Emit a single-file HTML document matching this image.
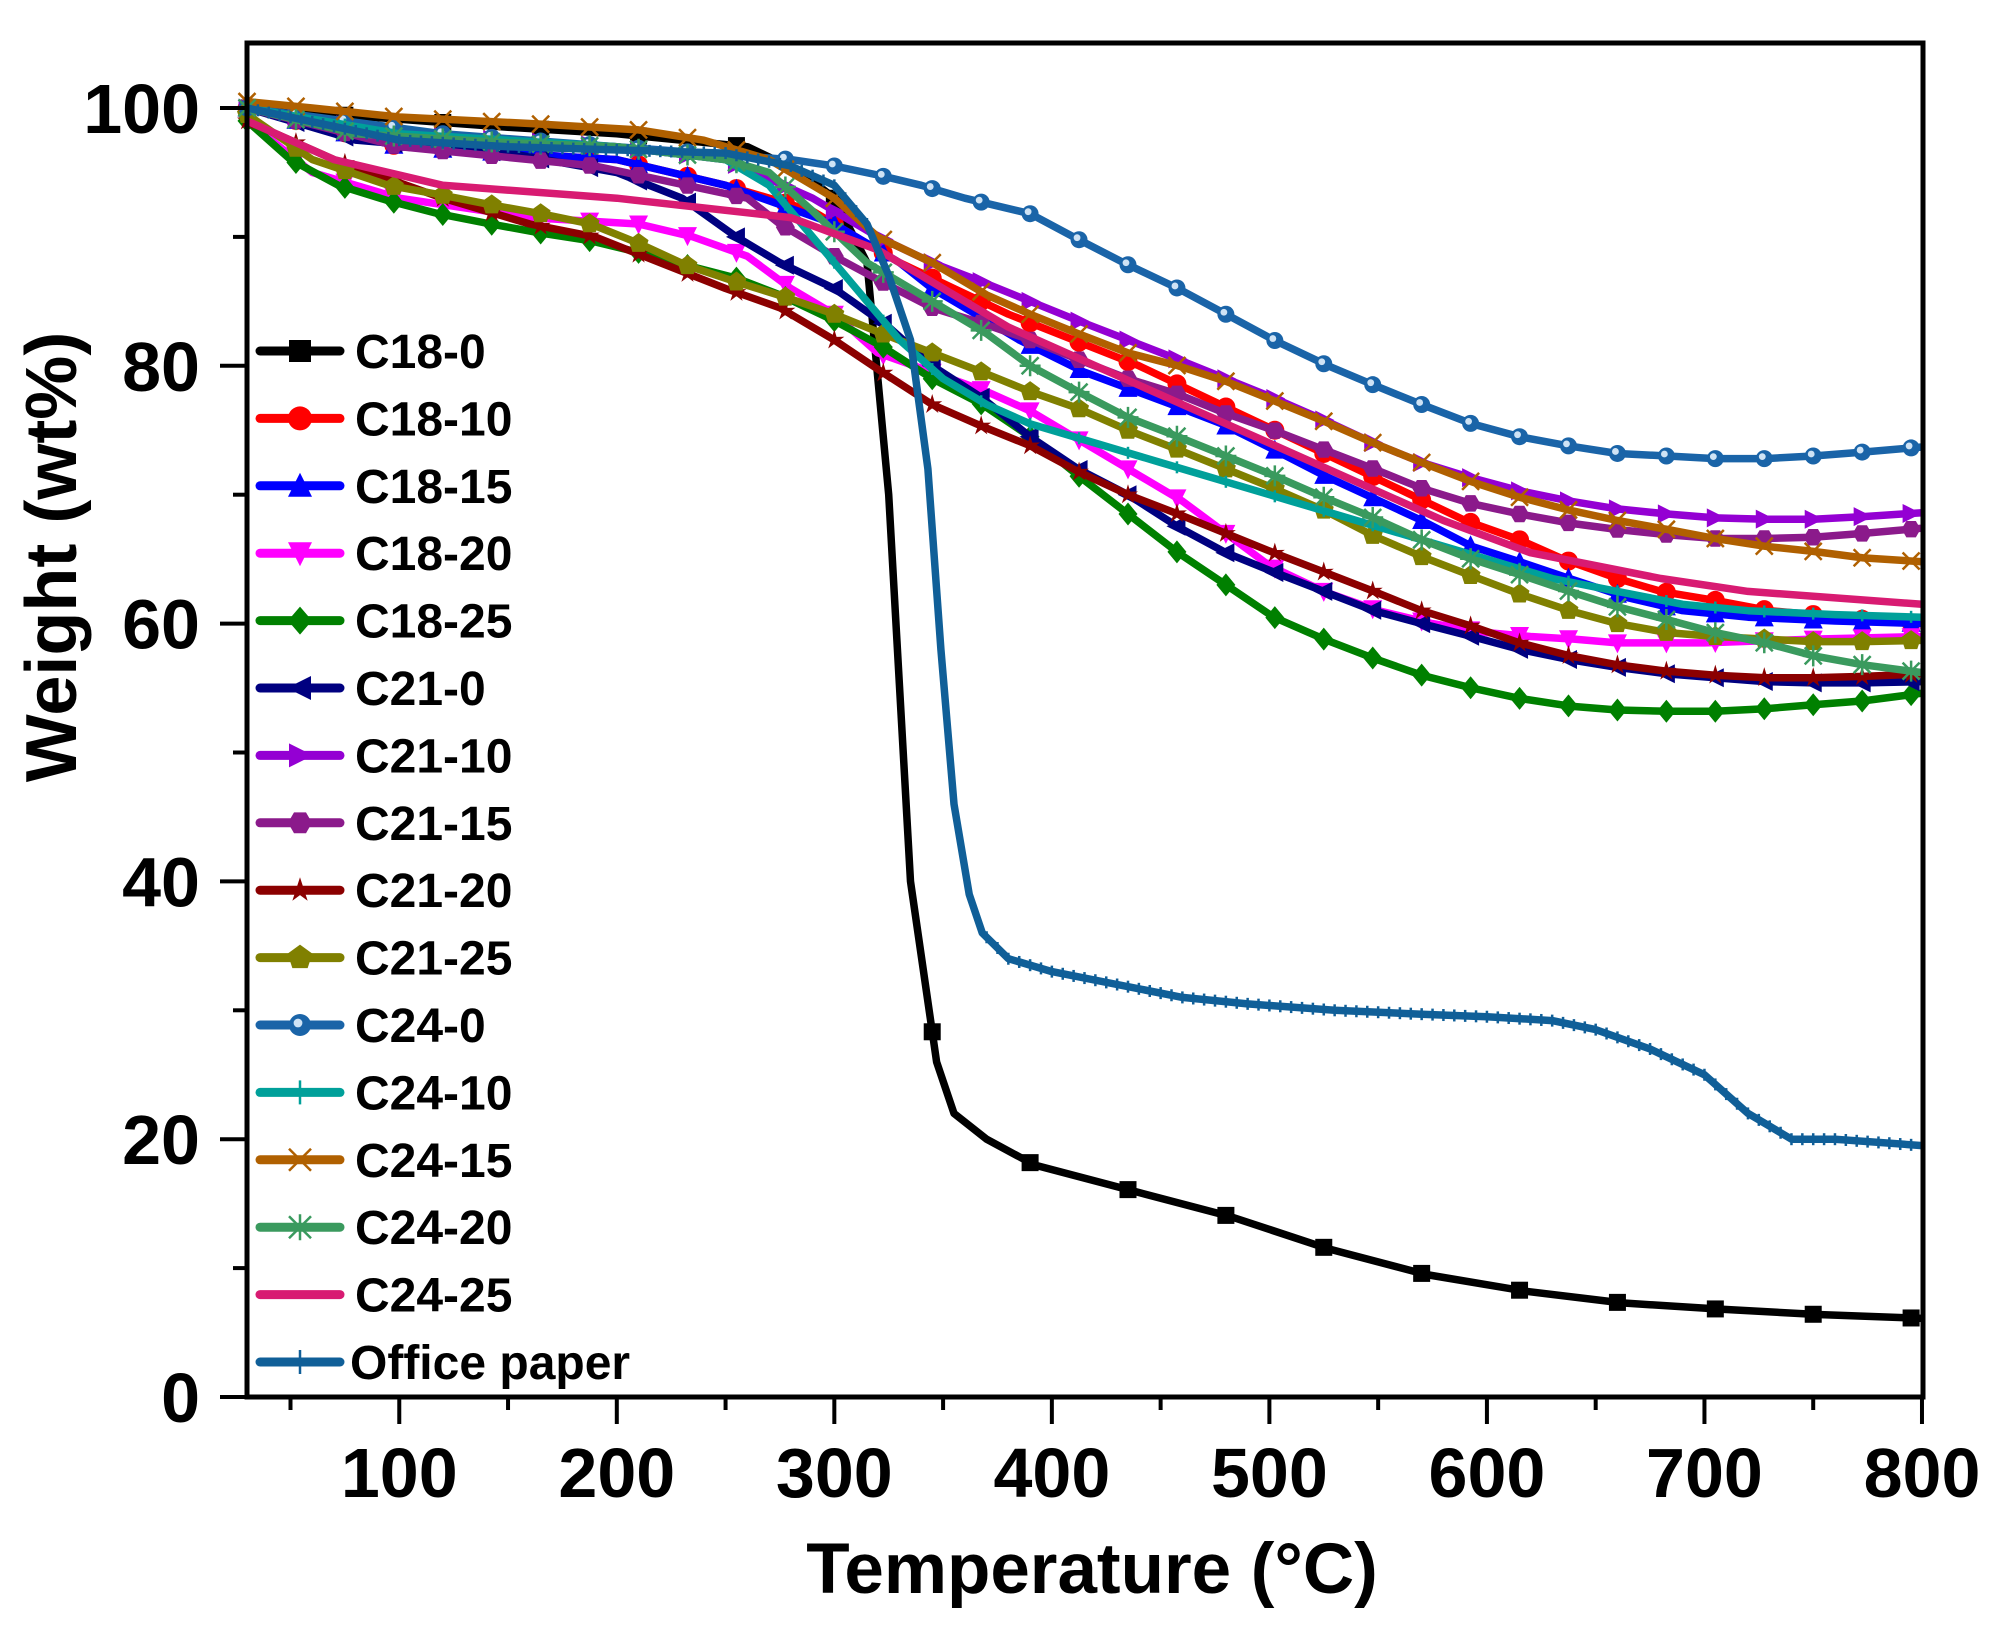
<!DOCTYPE html>
<html><head><meta charset="utf-8"><style>
html,body{margin:0;padding:0;background:#fff;}
svg{display:block;}
text{font-family:"Liberation Sans",Arial,sans-serif;font-weight:bold;fill:#000;}
</style></head><body>
<svg id="s" width="2011" height="1634" viewBox="0 0 2011 1634" xmlns="http://www.w3.org/2000/svg">
<rect width="2011" height="1634" fill="#fff"/>
<g id="plot"></g>
<g id="axes"></g>
<g id="leg"></g>
<text x="1092" y="1593" font-size="71" text-anchor="middle">Temperature (°C)</text>
<text transform="translate(76,557) rotate(-90)" font-size="72" text-anchor="middle">Weight (wt%)</text>
</svg>
<script>
const NS="http://www.w3.org/2000/svg";
const X=t=>247+(t-30)*2.1753, Y=w=>1397-w*12.89;
function el(tag,at,parent){const e=document.createElementNS(NS,tag);for(const k in at)e.setAttribute(k,at[k]);parent.appendChild(e);return e;}
const P=document.getElementById('plot'),A=document.getElementById('axes'),L=document.getElementById('leg');
function parse(s){return s.trim().split(/,\s*/).map(p=>{const [w,t]=p.split('@').map(Number);return [t,w];});}
function interp(pts,t){for(let i=0;i<pts.length-1;i++){if(t>=pts[i][0]&&t<=pts[i+1][0]){const f=(t-pts[i][0])/(pts[i+1][0]-pts[i][0]);return pts[i][1]+f*(pts[i+1][1]-pts[i][1]);}}return pts[pts.length-1][1];}
function marker(g,type,x,y,c,s){
 s=s||8;
 switch(type){
 case 'sq':el('rect',{x:x-s,y:y-s,width:2*s,height:2*s,fill:c},g);break;
 case 'ci':el('circle',{cx:x,cy:y,r:s+1,fill:c},g);break;
 case 'ball':el('circle',{cx:x,cy:y,r:s,fill:c},g);el('circle',{cx:x-2,cy:y-2,r:s*0.4,fill:'#cfe3f5'},g);break;
 case 'tu':el('polygon',{points:`${x},${y-s-2} ${x-s-1},${y+s} ${x+s+1},${y+s}`,fill:c},g);break;
 case 'td':el('polygon',{points:`${x},${y+s+2} ${x-s-1},${y-s} ${x+s+1},${y-s}`,fill:c},g);break;
 case 'tl':el('polygon',{points:`${x-s-2},${y} ${x+s},${y-s-1} ${x+s},${y+s+1}`,fill:c},g);break;
 case 'tr':el('polygon',{points:`${x+s+2},${y} ${x-s},${y-s-1} ${x-s},${y+s+1}`,fill:c},g);break;
 case 'di':el('polygon',{points:`${x},${y-s-3} ${x+s+1},${y} ${x},${y+s+3} ${x-s-1},${y}`,fill:c},g);break;
 case 'hex':{let p=[];for(let i=0;i<6;i++){const a=Math.PI/3*i;p.push((x+(s+1)*Math.cos(a))+','+(y+(s+1)*Math.sin(a)));}el('polygon',{points:p.join(' '),fill:c},g);break;}
 case 'pent':{let p=[];for(let i=0;i<5;i++){const a=-Math.PI/2+2*Math.PI/5*i;p.push((x+(s+2)*Math.cos(a))+','+(y+(s+2)*Math.sin(a)));}el('polygon',{points:p.join(' '),fill:c},g);break;}
 case 'star':{let p=[];for(let i=0;i<10;i++){const a=-Math.PI/2+Math.PI/5*i,r=i%2?s*0.45:s+2;p.push((x+r*Math.cos(a))+','+(y+r*Math.sin(a)));}el('polygon',{points:p.join(' '),fill:c},g);break;}
 case 'plus':el('path',{d:`M${x-s} ${y}H${x+s}M${x} ${y-s}V${y+s}`,stroke:c,'stroke-width':2.5},g);break;
 case 'vbar':el('path',{d:`M${x} ${y-s}V${y+s}`,stroke:c,'stroke-width':2.5},g);break;
 case 'x':el('path',{d:`M${x-s} ${y-s}L${x+s} ${y+s}M${x+s} ${y-s}L${x-s} ${y+s}`,stroke:c,'stroke-width':2.5},g);break;
 case 'ast':el('path',{d:`M${x-s} ${y-s}L${x+s} ${y+s}M${x+s} ${y-s}L${x-s} ${y+s}M${x} ${y-s-2}V${y+s+2}M${x-s-2} ${y}H${x+s+2}`,stroke:c,'stroke-width':2.5},g);break;
 }
}
const S=[
["C18-0","#000000","sq",45,"100@30,98.5@150,98@200,97@260,95@285,93@300,88@315,70@325,40@335,26@347,22@355,20@370,18@392,16@437,14@482,11.5@527,9.5@572,8.2@618,7.3@662,6.8@708,6.4@752,6.1@800"],
["C18-10","#ff0000","ci",22.5,"100@30,97@100,96@200,94@250,92@290,88@330,86@355,84@380,82@410,80@440,78@465,76@490,74@515,72@540,70@565,68@590,66.5@615,65@635,63.5@660,62.5@680,61.8@705,61@730,60.7@750,60.3@775,60@800"],
["C18-15","#0000ff","tu",22.5,"100@30,97@100,96@200,94@250,91@300,88@330,86@345,84@365,82@385,79.5@415,77@455,75.5@478,73.5@502,71.5@525,69.8@547,68@570,66@593,64.8@615,63.5@638,62@665,61@690,60.5@720,60.2@760,60@800"],
["C18-20","#ff00ff","td",22.5,"99@30,95@60,93@100,91.5@160,91@210,90@235,88.5@260,86@280,84@300,81@320,79.5@345,78@370,76.5@390,74.5@410,72@435,69.5@460,67@480,64.5@500,62.5@525,61@550,60@575,59.3@600,59@620,58.8@640,58.5@660,58.5@700,58.8@750,59@800"],
["C18-25","#008000","di",22.5,"99@30,96@50,94@72,92.8@95,91.8@118,91@142,90.3@165,89.7@188,88.8@210,87.8@232,86.8@255,85.5@275,83.5@300,81.5@322,79@345,77@368,74.5@390,71.5@412,68.5@435,65.5@458,63@480,60.5@502,58.8@525,57.3@548,56@570,55@593,54.2@615,53.6@638,53.3@660,53.2@683,53.2@705,53.4@728,53.7@750,54@773,54.6@800"],
["C21-0","#000080","tl",22.5,"100@30,97.5@80,96.5@150,95@200,93@230,90@255,88@275,86@300,83@325,80@345,77.5@368,74.5@390,72@412,70@435,67.5@458,65.5@480,64@502,62.5@525,61@548,60@570,59@593,58@615,57.2@638,56.6@660,56.1@683,55.8@705,55.5@728,55.4@750,55.4@773,55.5@800"],
["C21-10","#9400d3","tr",22.5,"100@30,98@100,97@200,96@250,93@290,90@320,88@345,86.5@368,85@390,83.5@412,82@435,80.5@458,79@480,77.5@502,75.8@525,74@548,72.5@570,71.3@593,70.3@615,69.5@638,68.9@660,68.5@683,68.2@705,68.1@728,68.1@750,68.3@773,68.6@800"],
["C21-15","#8b1a8b","hex",22.5,"100@30,97@100,95.5@190,93@260,91@275,88.5@300,86.5@322,84.5@345,83.3@368,82@390,80.5@412,79@435,77.8@458,76.3@480,75@502,73.5@525,72@548,70.5@570,69.3@593,68.5@615,67.8@638,67.3@660,66.9@683,66.6@705,66.6@728,66.7@750,67@773,67.4@800"],
["C21-20","#8b0000","star",22.5,"99@30,96@70,93@120,91@160,90@190,88@220,86@250,84.5@275,82@300,79.5@322,77@345,75.3@368,73.8@390,71.8@412,70@435,68.5@458,67@480,65.5@502,64@525,62.5@548,61@570,59.8@593,58.5@615,57.5@638,56.8@660,56.3@683,56@705,55.8@728,55.8@750,55.9@773,56.1@800"],
["C21-25","#808000","pent",22.5,"99.5@30,96@60,94@95,93.3@118,92.5@142,91.8@165,91@188,89.5@210,87.8@232,86.5@255,85.3@278,84@300,82.5@322,81@345,79.5@368,78@390,76.7@412,75@435,73.5@458,72@480,70.5@502,68.8@525,66.8@548,65.2@570,63.7@593,62.3@615,61@638,60@660,59.3@683,59@705,58.8@728,58.6@750,58.6@773,58.7@800"],
["C24-0","#1a64a8","ball",22.5,"100@30,98@120,97@200,96@280,95.5@300,94.8@320,94@340,93@360,91.8@390,90@410,88@433,86@458,84@480,82@502,80@527,78.5@548,77@570,75.5@593,74.5@615,73.8@637,73.2@660,73@683,72.8@705,72.8@728,73@750,73.3@772,73.7@800"],
["C24-10","#00a09a","vbar",22.5,"100@30,98@100,97@200,96@250,94@270,90@290,86@310,82@330,79@350,77@370,75.5@390,74@420,72.5@450,71@480,69.5@510,68@540,66.5@570,65@600,63.5@630,62.5@660,61.5@690,61@720,60.7@760,60.5@800"],
["C24-15","#b06000","x",22.5,"100.5@30,100@60,99.3@100,98.8@160,98.3@210,97.5@240,96@270,93@300,90@320,88@345,85.5@370,84@390,82.5@412,81@435,80@458,78.8@480,77.3@502,75.7@525,74@548,72.5@570,71@593,69.8@615,68.8@638,68@660,67.3@683,66.6@705,66@728,65.6@750,65.1@773,64.8@800"],
["C24-20","#3a9a5e","ast",22.5,"100@30,98@80,97.3@150,97@200,96@250,95@270,92@290,88@315,85@345,82.5@370,80@390,78@412,76@435,74.5@458,73@480,71.5@502,69.8@525,68.2@548,66.5@570,65@593,63.8@615,62.5@638,61.3@660,60.3@683,59.3@705,58.5@728,57.5@750,56.8@773,56.2@800"],
["C24-25","#d81b72",null,0,"99@30,96@70,94@120,93@200,91.5@280,89@320,86@350,83@380,80@420,77@460,74@500,71@540,68@580,65.5@620,63.5@680,62.5@720,61.5@800"],
["Office paper","#105f98","vbar",5,"100@30,97.5@100,97@150,96.5@250,95.5@280,94@300,91@315,87@325,82@335,72@343,58@349,46@355,39@362,36@368,34@380,33@400,32@430,31@460,30.5@490,30@530,29.7@570,29.5@600,29.2@630,28.5@650,27@675,25@700,22@720,20@740,20@760,19.5@800"]
];
S.forEach((s,i)=>{
 const pts=parse(s[4]);
 const g=el('g',{},P);
 el('polyline',{points:pts.map(p=>X(p[0]).toFixed(1)+','+Y(p[1]).toFixed(1)).join(' '),fill:'none',stroke:s[1],'stroke-width':7.5,'stroke-linejoin':'round'},g);
 if(s[2]){const st=s[3];for(let t=30;t<=800.01;t+=st){marker(g,s[2],X(t),Y(interp(pts,t)),s[1],s[2]=='vbar'?6:8.5);}}
 const y=351+i*67.4;
 el('line',{x1:260,y1:y,x2:340,y2:y,stroke:s[1],'stroke-width':9,'stroke-linecap':'round'},L);
 if(s[2])marker(L,s[2],300,y,s[1],s[2]=='vbar'?12:11);
 const tx=el('text',{x:i==15?350:355,y:y+17,'font-size':48},L);tx.textContent=s[0];
});
el('rect',{x:247,y:43,width:1676,height:1354,fill:'none',stroke:'#000','stroke-width':5},A);
for(let w=0;w<=100;w+=10){const y=Y(w);const maj=w%20==0;el('line',{x1:247,y1:y,x2:maj?220:233,y2:y,stroke:'#000','stroke-width':4},A);
 if(maj){const t=el('text',{x:200,y:y+25,'font-size':70,'text-anchor':'end'},A);t.textContent=w;}}
for(let t=50;t<=800;t+=50){const x=X(t);const maj=t%100==0;el('line',{x1:x,y1:1397,x2:x,y2:maj?1424:1410,stroke:'#000','stroke-width':4},A);
 if(maj){const tt=el('text',{x:x,y:1497,'font-size':70,'text-anchor':'middle'},A);tt.textContent=t;}}
</script>
</body></html>
